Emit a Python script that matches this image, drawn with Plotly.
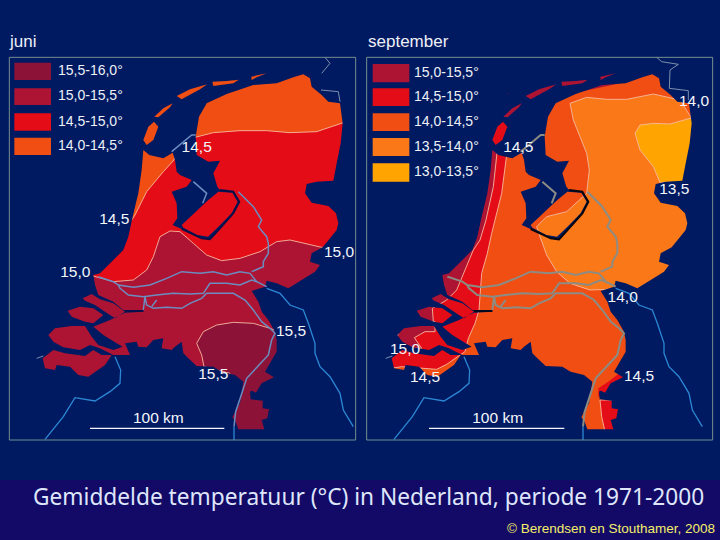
import plotly.graph_objects as go

# Map units: 3 units per page pixel; page = (x/3, 20 + y/3)
LAND = [(587,350),(597,290),(620,250),(680,222),(760,195),(830,190),(880,172),(910,163),(930,175),(935,200),(965,225),(985,245),(1020,250),(1028,310),(1022,370),(1010,430),(1000,482),(950,485),(920,492),(915,520),(935,548),(985,558),(1008,580),(1015,610),(1010,630),(990,655),(968,682),(935,700),(930,725),(960,735),(945,755),(865,805),(830,790),(800,782),(795,800),(755,813),(775,845),(785,875),(805,900),(825,935),(830,960),(830,995),(795,1055),(822,1072),(785,1090),(768,1118),(755,1112),(750,1115),(752,1138),(788,1142),(788,1165),(807,1168),(802,1195),(785,1200),(793,1228),(715,1228),(707,1205),(697,1192),(708,1170),(720,1150),(730,1085),(705,1065),(665,1055),(640,1040),(590,1038),(565,1015),(550,1000),(545,965),(525,980),(515,990),(485,985),(490,955),(460,960),(440,982),(415,980),(410,965),(375,970),(390,1005),(340,1005),(300,985),(270,975),(240,990),(190,982),(160,965),(145,945),(165,925),(215,918),(255,918),(275,950),(295,975),(340,990),(368,980),(350,970),(310,945),(280,920),(330,900),(375,878),(430,875),(430,870),(370,870),(340,845),(295,825),(285,795),(280,765),(300,760),(335,725),(370,690),(385,650),(398,590),(415,520),(425,450),(430,390),(448,405),(490,415),(518,398),(525,420),(530,455),(540,465),(575,480),(560,500),(515,515),(530,550),(532,595),(518,615),(545,627),(605,655),(630,658),(660,625),(700,580),(718,545),(700,515),(660,510),(652,500),(640,460),(660,422),(625,425),(590,405)]
FLEVOLAND = [(545,615),(625,540),(655,515),(697,518),(713,545),(695,580),(654,622),(624,650),(592,645),(550,623)]
TEXEL = [(430,360),(445,320),(462,305),(475,320),(460,360),(440,375)]
VLIELAND = [(463,290),(490,265),(518,250),(510,262),(475,292)]
TERSCHELLING = [(530,228),(570,208),(622,193),(600,208),(545,238)]
AMELAND = [(637,185),(680,183),(716,179),(700,190),(640,198)]
SCHIER = [(754,170),(800,160),(770,172),(755,180)]
GOEREE = [(248,835),(275,822),(300,838),(340,850),(375,875),(345,895),(315,875),(285,855),(255,842)]
SCHOUWEN = [(203,872),(240,860),(280,865),(310,885),(280,910),(255,905),(215,890)]
VLAANDEREN = [(128,1015),(160,990),(195,1000),(255,1008),(280,990),(305,1005),(335,1005),(315,1035),(265,1070),(235,1065),(210,1040),(170,1035),(165,1050),(135,1045)]
ISLANDS = [FLEVOLAND,TEXEL,VLIELAND,TERSCHELLING,AMELAND,SCHIER,GOEREE,SCHOUWEN,VLAANDEREN]

# Juni temperature zones
J_NORTH = [(585,352),(640,338),(720,332),(800,332),(870,338),(950,335),(1030,308),(1060,308),(1060,120),(420,120),(420,400),(530,400)]
J_WEST = [(395,600),(405,585),(440,515),(490,455),(522,420),(530,380),(400,380),(380,600)]
J_MID = [(280,768),(340,785),(400,780),(440,750),(460,710),(480,650),(510,633),(540,635),(580,670),(620,705),(665,722),(720,715),(780,695),(830,665),(870,660),(965,682),(1060,682),(1060,1250),(100,1250),(100,770)]
J_SOUTH = [(612,1040),(605,1005),(590,970),(610,935),(650,915),(700,907),(760,910),(810,925),(835,935),(860,935),(860,1250),(680,1250),(680,1080),(690,1060)]

# September zones (units with right-hand crop origin)
S_DARK = [(412,390),(400,500),(378,600),(360,660),(340,690),(315,750),(290,810),(260,840),(217,865),(220,905),(100,905),(100,700),(380,380)]
S_RED = [(440,405),(425,520),(395,640),(382,700),(365,760),(357,870),(345,910),(325,955),(315,995),(300,1005),(260,1033),(230,1048),(125,1040),(60,1050),(60,820),(260,700),(380,380)]
S_WAD = [(390,330),(395,390),(450,390),(450,290)]
S_WEST_DARK = [(470,140),(780,140),(780,190),(500,250),(430,300),(380,320)]
S_BEV_DARK = [(115,940),(100,905),(225,905),(225,935),(195,935),(163,953),(185,985),(100,985)]
S_LIMB1 = [(715,1105),(745,1085),(775,1062),(850,1062),(850,1130),(715,1130)]
S_LIMB2 = [(720,1140),(725,1190),(735,1235),(800,1235),(800,1140)]
S_ORANGE = [(630,250),(680,232),(740,238),(800,238),(880,222),(960,240),(995,295),(1050,295),(1050,800),(745,808),(690,810),(630,790),(590,755),(560,705),(540,650),(530,620),(560,590),(620,575),(680,520),(688,450),(680,400),(660,350),(640,300)]
S_YELLOW = [(825,340),(840,315),(880,310),(930,312),(990,295),(1045,295),(1045,487),(900,487),(880,440),(840,390)]

# Waterways
IJSSEL = [(715,515),(760,560),(785,600),(775,620),(800,650),(805,670),(805,700),(790,725),(790,740),(755,755)]
LEK = [(800,800),(770,785),(750,760),(720,755),(680,765),(640,755),(600,760),(545,755),(500,775),(450,795),(400,802),(355,795),(340,785),(295,770)]
WAAL = [(770,785),(755,780),(720,795),(680,790),(630,790),(610,820),(570,822),(520,820),(470,825),(430,830),(385,825),(360,805),(355,795)]
MAAS = [(810,925),(785,905),(760,870),(735,840),(700,820),(620,820),(605,835),(570,850),(545,865),(500,862),(460,865),(440,855),(435,830),(430,870)]
MAAS_BR = [(470,840),(455,860)]
MAAS_S = [(810,925),(825,940),(815,960),(805,1005),(740,1075),(722,1130),(707,1175),(702,1220)]
MAAS_END = [(702,1220),(702,1260)]
RHINE = [(800,805),(840,820),(870,855),(910,870),(925,910),(945,970),(945,1000),(960,1040),(990,1070),(1020,1120),(1030,1170),(1060,1220)]
SCHELDT = [(345,1010),(362,1050),(360,1090),(330,1115),(285,1143),(225,1133),(190,1190),(135,1258)]
EMS = [(975,112),(990,130),(965,160)]
EMS2 = [(963,210),(1015,215),(1020,245)]
S_EMS = [(890,112),(905,125),(955,133),(930,150),(928,205),(985,212),(985,240)]
AFSLUIT = [(587,345),(575,345),(515,395)]
HOUTRIB = [(580,485),(620,520),(608,550)]
WEST_W = [(110,1015),(130,1008)]
RING = [(545,627),(605,655),(630,658),(660,625),(700,580),(718,545),(700,515),(660,510)]
CHANNEL = [(375,873),(430,873)]
LAND_RIVERS = [IJSSEL,LEK,WAAL,MAAS,MAAS_BR,MAAS_S,AFSLUIT,HOUTRIB]
OUT_RIVERS = [RHINE,SCHELDT,MAAS_END]

# Legends
J_LEG = ["15,5-16,0°","15,0-15,5°","14,5-15,0°","14,0-14,5°"]
S_LEG = ["15,0-15,5°","14,5-15,0°","14,0-14,5°","13,5-14,0°","13,0-13,5°"]
C165 = "#8c1238"; C155 = "#ad1433"; C150 = "#e30c17"; C145 = "#f04e12"; C140 = "#fb7818"; C135 = "#ffa400"
J_COL = [C165,C155,C150,C145]
S_COL = [C155,C150,C145,C140,C135]
J_ROWS = [(128,180),(205,255),(280,332),(353,405)]
S_ROWS = [(132,187),(205,258),(280,333),(354,408),(430,485)]

# Isotherm labels
J_LAB = [("14,5",590,383),("14,5",343,600),("15,0",226,758),("15,0",1017,700),("15,5",873,937),("15,5",640,1065),("100 km",475,1197)]
S_LAB = [("14,0",2082,245),("14,5",1555,383),("13,5",2023,510),("14,0",1868,833),("15,0",1215,990),("14,5",1275,1075),("14,5",1917,1072),("100 km",1493,1197)]

BG = "#001a62"; BOT = "#120a66"; FRAME = "#6f8f8f"; ISO = "#f6b9a0"
FX0, FX1, FY0, FY1 = 28, 1067, 112, 1260
RX0, RX1 = 1100, 2138
DX_LAND = 1047; DX_R = 1080

fig = go.Figure()

def area(p):
    return sum(p[i][0]*p[(i+1)%len(p)][1]-p[(i+1)%len(p)][0]*p[i][1] for i in range(len(p)))

def poly(p, color, dx=0, edge=None):
    xs = [a+dx for a,b in p]+[p[0][0]+dx]
    ys = [b for a,b in p]+[p[0][1]]
    fig.add_trace(go.Scatter(x=xs,y=ys,mode="lines",fill="toself",fillcolor=color,
        line=dict(color=edge or color,width=0.9 if edge else 0,simplify=False),hoverinfo="skip"))

def line(p, color, width, dx=0):
    fig.add_trace(go.Scatter(x=[a+dx for a,b in p],y=[b for a,b in p],mode="lines",
        line=dict(color=color,width=width,simplify=False),hoverinfo="skip"))

def mask(x0,x1,dx):
    rect=[(x0,FY0),(x1,FY0),(x1,FY1),(x0,FY1)]
    pts=list(rect)+[rect[0]]
    s=area(rect)
    for h in [LAND]+ISLANDS:
        q=[(a+dx,b) for a,b in h]
        if area(q)*s>0: q=q[::-1]
        pts=pts+q+[q[0]]+[rect[0]]
    poly(pts,BG)

def texts(items,size=15.5):
    fig.add_trace(go.Scatter(x=[t[1] for t in items],y=[t[2] for t in items],text=[t[0] for t in items],
        mode="text",textposition="middle center",textfont=dict(family="Liberation Sans",size=size,color="#f4f6fa"),hoverinfo="skip"))

def legend(labels,cols,rows,x0,x1,xt):
    for c,(a,b) in zip(cols,rows):
        poly([(x0,a),(x1,a),(x1,b),(x0,b)],c)
    fig.add_trace(go.Scatter(x=[xt]*len(labels),y=[(a+b)/2 for a,b in rows],text=labels,mode="text",
        textposition="middle right",textfont=dict(family="Liberation Sans",size=14,color="#eef0f6"),hoverinfo="skip"))

# --- June map
poly([(FX0,FY0),(FX1,FY0),(FX1,FY1),(FX0,FY1)],C150)
poly(J_MID,C155,edge=ISO)
poly(J_SOUTH,C165,edge=ISO)
poly(J_NORTH,C145,edge=ISO)
poly(J_WEST,C145,edge=ISO)
mask(FX0,FX1,0)
for r in LAND_RIVERS: line(r,"#6c8cc0",1.5)
for r in OUT_RIVERS: line(r,"#2c88d4",1.3)
for r in [EMS,EMS2,WEST_W]: line(r,"#8c9cb4",0.9)
line(RING,"#0a0f48",1.8)
line(CHANNEL,"#0a0f48",1.6)

# --- September map
poly([(RX0,FY0),(RX1,FY0),(RX1,FY1),(RX0,FY1)],C145)
poly(S_RED,C150,DX_R,edge=ISO)
poly(S_DARK,C155,DX_R,edge=ISO)
poly(S_BEV_DARK,C155,DX_R,edge=ISO)
poly(S_WEST_DARK,C155,DX_R)
poly(S_WAD,C150,DX_R)
poly(S_LIMB1,C150,DX_R)
poly(S_LIMB2,C150,DX_R,edge=ISO)
poly(S_ORANGE,C140,DX_R,edge=ISO)
poly(S_YELLOW,C135,DX_R,edge=ISO)
mask(RX0,RX1,DX_LAND)
for r in LAND_RIVERS: line(r,"#8c8c84",2,DX_LAND)
for r in OUT_RIVERS: line(r,"#2c88d4",1.3,DX_LAND)
line(S_EMS,"#8c9cb4",0.9,DX_R)
line(WEST_W,"#8c9cb4",0.9,DX_LAND)
line(RING,"#05060f",2,DX_LAND)
line(CHANNEL,"#05060f",1.6,DX_LAND)

# frames, scale bars, legends, labels
for x0,x1 in [(FX0,FX1),(RX0,RX1)]:
    line([(x0,FY0),(x1,FY0),(x1,FY1),(x0,FY1),(x0,FY0)],FRAME,1)
line([(270,1225),(673,1225)],"#f4f6fa",1.1)
line([(1287,1225),(1693,1225)],"#f4f6fa",1.1)
legend(J_LEG,J_COL,J_ROWS,43,153,174)
legend(S_LEG,S_COL,S_ROWS,1118,1228,1242)
texts(J_LAB); texts(S_LAB)

fig.update_xaxes(range=[0,2160],visible=False,fixedrange=True)
fig.update_yaxes(range=[1560,-60],visible=False,fixedrange=True)
anns=[("juni",22,63,"left",17,"Liberation Sans","#eef0f6"),
      ("september",1098,63,"left",17,"Liberation Sans","#eef0f6"),
      ("Gemiddelde temperatuur (°C) in Nederland, periode 1971-2000",1105,1428,"center",22.7,"Noto Sans","#dfe6fb"),
      ("© Berendsen en Stouthamer, 2008",2150,1524,"right",13.5,"Liberation Sans","#f4ee6a")]
for t,x,y,al,s,f,c in anns:
    fig.add_annotation(x=x,y=y,text=t,xanchor=al,yanchor="middle",showarrow=False,font=dict(family=f,size=s,color=c))
fig.add_shape(type="rect",xref="x",yref="y",x0=0,x1=2160,y0=1380,y1=1560,fillcolor=BOT,line_width=0,layer="below")
fig.update_layout(width=720,height=540,margin=dict(l=0,r=0,t=0,b=0),showlegend=False,paper_bgcolor=BG,plot_bgcolor=BG)
fig.write_html("out.html",config={"displayModeBar":False},post_script="document.body.style.margin='0';document.documentElement.style.overflow='hidden';")
